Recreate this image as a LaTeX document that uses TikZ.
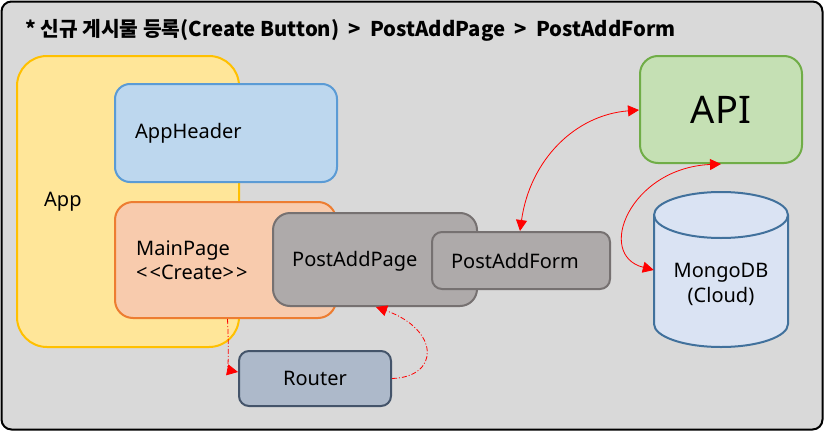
\documentclass[tikz,border=0pt]{standalone}
\usepackage{fontspec}
\setmainfont{Noto Sans}
\newfontfamily\kr{Noto Sans CJK KR}
\usetikzlibrary{arrows.meta}
\definecolor{bgc}{HTML}{D9D9D9}
\definecolor{appf}{HTML}{FFE699}\definecolor{appd}{HTML}{FFC000}
\definecolor{hdrf}{HTML}{BDD7EE}\definecolor{hdrd}{HTML}{5B9BD5}
\definecolor{mpf}{HTML}{F8CBAD}\definecolor{mpd}{HTML}{ED7D31}
\definecolor{grf}{HTML}{AEAAAA}\definecolor{grd}{HTML}{767171}
\definecolor{apif}{HTML}{C5E0B4}\definecolor{apid}{HTML}{70AD47}
\definecolor{dbf}{HTML}{DAE3F3}\definecolor{dbd}{HTML}{41719C}
\definecolor{rtf}{HTML}{ADB9CA}\definecolor{rtd}{HTML}{44546A}
\definecolor{arr}{HTML}{FF0000}
\tikzset{
  box/.style={rectangle, line width=2pt, inner sep=0pt},
  lbl/.style={font=\fontsize{20}{24}\selectfont, inner sep=0pt},
  solidarr/.style={draw=arr, line width=0.8pt, {Triangle[length=11pt,width=11pt]}-{Triangle[length=11pt,width=11pt]}},
  dotarr/.style={draw=arr, line width=0.8pt, dash pattern=on 5pt off 2pt on 1pt off 2pt, -{Triangle[length=11pt,width=11pt]}},
}
\begin{document}
\begin{tikzpicture}[x=1pt,y=-1pt]
\useasboundingbox (0,0) rectangle (824,431);
\draw[fill=bgc, draw=black, line width=2pt, rounded corners=10pt] (1.5,1.5) rectangle (822.5,429.5);
\node[anchor=west, inner sep=0pt, font=\kr\bfseries\fontsize{20.3}{24}\selectfont] (title) at (25,30.5) {* 신규 게시물 등록(Create Button)~~>~~PostAddPage~~>~~PostAddForm};

\node[box, fill=appf, draw=appd, rounded corners=30pt, minimum width=222pt, minimum height=291pt] (app) at (128,201.5) {};
\node[lbl, anchor=west] (apptxt) at (44,202) {App};
\node[box, fill=hdrf, draw=hdrd, rounded corners=15pt, minimum width=222pt, minimum height=98pt] (hdr) at (226,133) {};
\node[lbl, anchor=west] (hdrtxt) at (135,133) {AppHeader};
\node[box, fill=mpf, draw=mpd, rounded corners=18pt, minimum width=221pt, minimum height=116pt] (main) at (225.5,260) {};
\node[lbl, anchor=west, align=left] (maintxt) at (136,260) {MainPage\\[0pt]<\kern2pt<Create>\kern2pt>};
\node[box, fill=grf, draw=grd, rounded corners=17pt, minimum width=204pt, minimum height=93pt] (pap) at (375,259.5) {};
\node[lbl, anchor=west] (paptxt) at (292,261) {PostAddPage};
\node[box, fill=grf, draw=grd, rounded corners=10pt, minimum width=178pt, minimum height=57pt] (paf) at (521,260.5) {};
\node[lbl] (paftxt) at (515,261) {PostAddForm};
\node[box, fill=apif, draw=apid, rounded corners=18pt, minimum width=162pt, minimum height=107pt, font=\fontsize{38}{44}\selectfont] (api) at (721,109.5) {API};
\node[box, fill=rtf, draw=rtd, rounded corners=10pt, minimum width=152pt, minimum height=55pt, font=\fontsize{20}{24}\selectfont] (router) at (315,378.5) {Router};

% MongoDB cylinder
\draw[fill=dbf, draw=dbd, line width=2pt] (654,215) -- (654,324)
  arc[start angle=180, end angle=360, x radius=67pt, y radius=23pt] -- (788,215)
  arc[start angle=0, end angle=180, x radius=67pt, y radius=23pt] -- cycle;
\draw[draw=dbd, line width=2pt] (654,215) arc[start angle=180, end angle=360, x radius=67pt, y radius=23pt];
\node[minimum width=134pt, minimum height=155pt, inner sep=0pt] (db) at (721,269.5) {};
\node[lbl, align=center] (dbtxt) at (721,284) {MongoDB\\[1pt](Cloud)};

% connectors
\coordinate (pafn) at ([xshift=-1pt]paf.north);
\coordinate (apiw) at (api.west |- 0,110);
\coordinate (dbw) at (db.west |- 0,270);
\coordinate (ms) at ([xshift=2pt]main.south);
\coordinate (rw) at (router.west |- 0,372);
\coordinate (papb) at (376,307);
\draw[solidarr] (pafn) .. controls (530,160) and (575,115) .. (apiw);
\draw[solidarr] (api.south) .. controls (630,168) and (595,255) .. (dbw);
\draw[dotarr] (ms) .. controls (229,350) and (228,370) .. (rw);
\draw[dotarr] (router.east) .. controls (440,377) and (440,330) .. (papb);
\end{tikzpicture}
\end{document}
